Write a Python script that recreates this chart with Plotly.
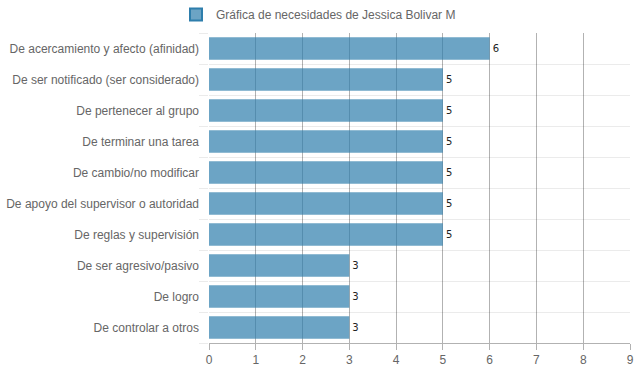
import plotly.graph_objects as go

categories = [
    "De acercamiento y afecto (afinidad)",
    "De ser notificado (ser considerado)",
    "De pertenecer al grupo",
    "De terminar una tarea",
    "De cambio/no modificar",
    "De apoyo del supervisor o autoridad",
    "De reglas y supervisión",
    "De ser agresivo/pasivo",
    "De logro",
    "De controlar a otros",
]
values = [6, 5, 5, 5, 5, 5, 5, 3, 3, 3]
series_name = "Gráfica de necesidades de Jessica Bolivar M"
x_ticks = list(range(0, 10))

positions = list(range(len(categories)))

fig = go.Figure()
fig.add_trace(go.Bar(
    x=values,
    y=positions,
    orientation="h",
    name=series_name,
    width=0.72,
    marker=dict(color="rgba(46,126,172,0.7)",
                line=dict(color="rgba(46,126,172,1)", width=0)),
    text=[str(v) for v in values],
    textposition="outside",
    textfont=dict(family="DejaVu Sans", size=10, color="#222"),
    cliponaxis=False,
    showlegend=False,
))
# legend entry (no data drawn)
fig.add_trace(go.Bar(
    x=[None], y=[None], orientation="h", name=series_name,
    marker=dict(color="rgba(46,126,172,0.7)",
                line=dict(color="rgba(46,126,172,1)", width=2)),
    showlegend=True,
))

fig.update_layout(
    width=637, height=371,
    margin=dict(l=209, r=7, t=33, b=28, autoexpand=False),
    paper_bgcolor="white", plot_bgcolor="white",
    font=dict(family="Liberation Sans, Arial, sans-serif", size=12, color="#666"),
    showlegend=True,
    legend=dict(orientation="h", xref="container", yref="container",
                x=0.5, xanchor="center", y=1.0, yanchor="top",
                font=dict(size=12, color="#666"),
                itemwidth=30),
    xaxis=dict(range=[0, 9], tickvals=x_ticks, ticktext=[str(t) for t in x_ticks],
               showgrid=True, gridcolor="rgba(0,0,0,0.3)", gridwidth=1,
               zeroline=False, showline=True, linecolor="rgba(0,0,0,0.3)",
               ticks="outside", ticklen=6, tickcolor="rgba(0,0,0,0.3)",
               tickfont=dict(size=12, color="#666")),
    yaxis=dict(range=[9.5, -0.5], tickvals=positions, ticktext=categories,
               showgrid=False, zeroline=False, showline=False,
               ticks="", ticklabelstandoff=9,
               tickfont=dict(size=12, color="#666"),
               minor=dict(tick0=0.5, dtick=1, showgrid=True,
                          gridcolor="rgba(0,0,0,0.08)", gridwidth=1,
                          ticks="outside", ticklen=9,
                          tickcolor="rgba(0,0,0,0.08)")),
)

fig.write_html("out.html",
               config={"displayModeBar": False},
               post_script="document.body.style.margin='0';document.body.style.padding='0';")
